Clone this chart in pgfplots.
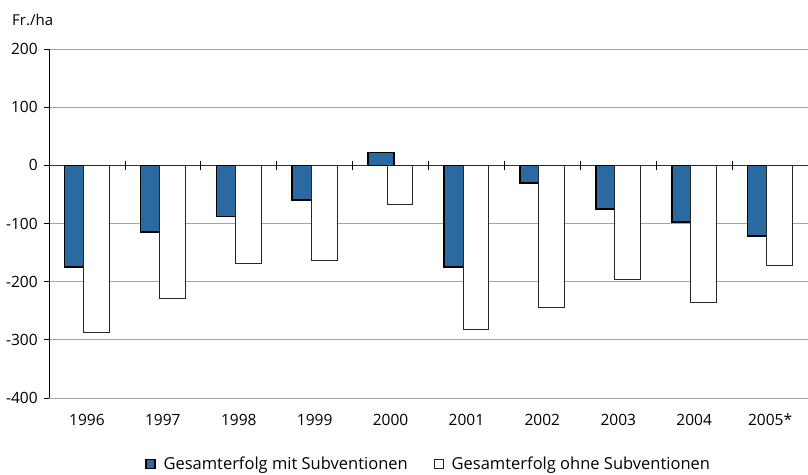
\documentclass[border=0pt]{standalone}
\usepackage{pgfplots}
\pgfplotsset{compat=1.18}
\usepackage{pgfplotstable}
\usepackage{fontspec}
\setmainfont{Open Sans}
\definecolor{barblue}{RGB}{42,106,161}
\definecolor{gridgray}{RGB}{165,165,165}
\pgfplotstableread{
x blue white
0 -175 -288
1 -115 -229
2 -88 -168
3 -60 -163
4 22 -68
5 -175 -282
6 -30 -245
7 -75 -196
8 -97 -236
9 -122 -172
}\datatable
\begin{document}
\fontsize{15.5}{18}\selectfont
\begin{tikzpicture}
\begin{axis}[
  scale only axis,
  width=759pt, height=349pt,
  xmin=-0.5, xmax=9.5,
  ymin=-400, ymax=200,
  ytick={-400,-300,...,200},
  xtick={0,...,9},
  xticklabels={1996,1997,1998,1999,2000,2001,2002,2003,2004,2005*},
  axis lines*=left,
  x axis line style={draw=none},
  y axis line style={black, line width=0.8pt},
  ymajorgrids,
  grid style={gridgray, line width=0.8pt},
  tick align=outside,
  ytick style={black, line width=0.8pt},
  major tick length=5pt,
  xtick style={draw=none},
  /pgf/number format/assume math mode=true,
  tick label style={font=\fontsize{15.5}{18}\selectfont},
  yticklabel style={xshift=-1pt},
  xticklabel style={anchor=base, yshift=-22pt},
  legend style={at={(axis description cs:0.5,-0.189)}, anchor=center, draw=none,
    legend columns=2, font=\fontsize{16.5}{19}\selectfont,
    /tikz/every odd column/.append style={column sep=6pt},
    /tikz/every even column/.append style={column sep=24pt}},
  legend image code/.code={\draw[#1] (0pt,-4.5pt) rectangle (9pt,4.5pt);},
  clip=false,
]
\draw[black!80, line width=0.8pt] (axis cs:-0.5,0) -- (axis cs:9.5,0);
\addplot[ybar, bar width=0.34, bar shift=0pt, fill=barblue, draw=black, line width=1.6pt]
  table[x expr=\thisrow{x}-0.125, y=blue] {\datatable};
\addlegendentry{Gesamterfolg mit Subventionen}
\addplot[ybar, bar width=0.34, bar shift=0pt, fill=white, draw=black!85, line width=0.9pt]
  table[x expr=\thisrow{x}+0.125, y=white] {\datatable};
\addlegendentry{Gesamterfolg ohne Subventionen}
\pgfplotsinvokeforeach{0.5,1.5,...,8.5}{
  \draw[black, line width=0.8pt] (axis cs:#1,-8) -- (axis cs:#1,8);
}
\node[anchor=base west, inner sep=0pt, font=\fontsize{15}{18}\selectfont] at ([xshift=-37pt,yshift=23pt]rel axis cs:0,1) {Fr./ha};
\coordinate (ll) at (rel axis cs:0,0);
\coordinate (ur) at (rel axis cs:1,1);
\end{axis}
\pgfresetboundingbox
\path ([xshift=-49pt,yshift=-76pt]ll) rectangle ([yshift=49pt]ur);
\end{tikzpicture}
\end{document}
